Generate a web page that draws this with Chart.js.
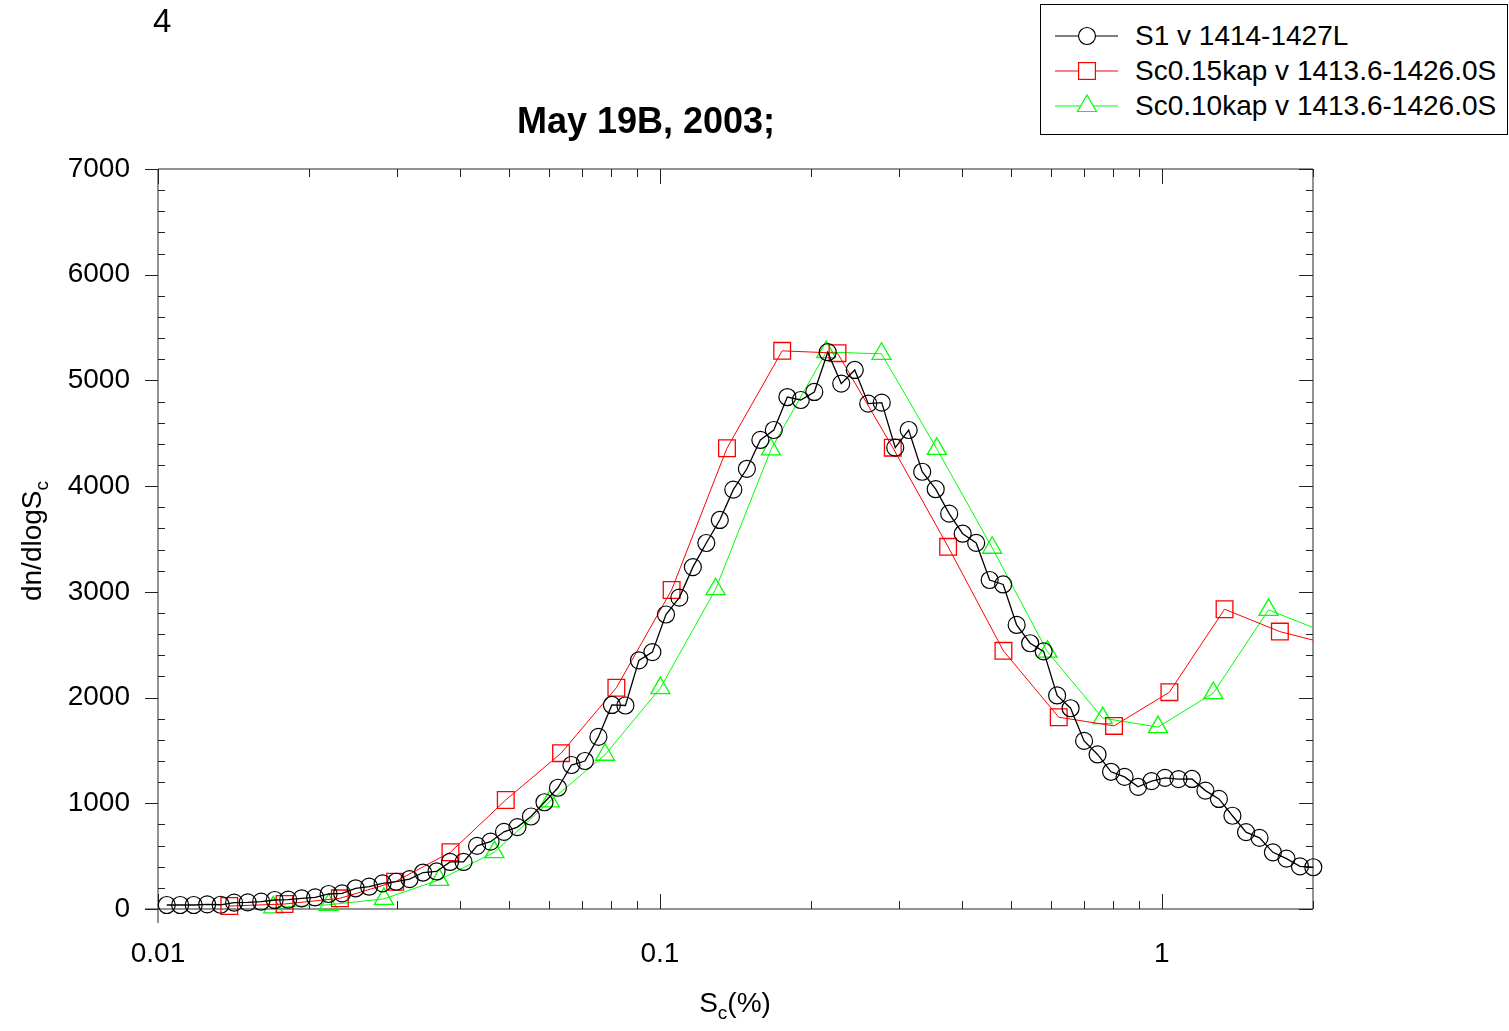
<!DOCTYPE html>
<html>
<head>
<meta charset="utf-8">
<script src="https://cdn.jsdelivr.net/npm/chart.js@4.4.1/dist/chart.umd.min.js"></script>
<style>
  html, body { margin: 0; padding: 0; background: #fff; }
  body { width: 1509px; height: 1031px; position: relative; overflow: hidden;
         font-family: "Liberation Sans", Arial, sans-serif; color: #000; }
  #c { position: absolute; left: 0; top: 0; }
  .txt { position: absolute; white-space: nowrap; line-height: 1; }
  .sub { font-size: 19px; position: relative; top: 7px; }
  #legend { position: absolute; left: 1040px; top: 4px; width: 468px; height: 131px;
            box-sizing: border-box; border: 1px solid #000; background: #fff; }
  #legend svg { position: absolute; left: 0; top: 0; }
  #legend .txt { font-size: 28px; left: 94px; }
</style>
</head>
<body>
<canvas id="c" width="1509" height="1031"></canvas>

<div class="txt" style="left:153px; top:4px; font-size:33px;">4</div>
<div class="txt" style="left:346px; width:600px; text-align:center; top:103px; font-size:36px; font-weight:bold;">May 19B, 2003;</div>
<div class="txt" style="left:535px; width:400px; text-align:center; top:989px; font-size:28px;">S<span class="sub">c</span>(%)</div>
<div class="txt" style="left:-118px; top:524px; width:300px; height:34px; line-height:34px; text-align:center; font-size:28px; transform:rotate(-90deg);">dn/dlogS<span class="sub">c</span></div>

<div id="legend">
  <svg width="466" height="129">
    <line x1="14" y1="31" x2="77" y2="31" stroke="#000" stroke-width="1.2"/>
    <circle cx="46" cy="31" r="8.5" fill="#fff" stroke="#000" stroke-width="1.2"/>
    <line x1="14" y1="66" x2="77" y2="66" stroke="#ff0000" stroke-width="1"/>
    <rect x="37.6" y="57.6" width="16.8" height="16.8" fill="#fff" stroke="#ff0000" stroke-width="1.2"/>
    <line x1="14" y1="101" x2="77" y2="101" stroke="#00ff00" stroke-width="1"/>
    <polygon points="46,90 55.5,106.5 36.5,106.5" fill="#fff" stroke="#00ff00" stroke-width="1.2"/>
  </svg>
  <div class="txt" style="top:17px;">S1 v 1414-1427L</div>
  <div class="txt" style="top:52px;">Sc0.15kap v 1413.6-1426.0S</div>
  <div class="txt" style="top:87px;">Sc0.10kap v 1413.6-1426.0S</div>
</div>

<script>
// S1 v 1414-1427L (black circles)
const s1X = [0.01041, 0.01107, 0.01178, 0.01253, 0.01333, 0.01418, 0.01509, 0.01605, 0.01708, 0.01817,
             0.01933, 0.02056, 0.02187, 0.02327, 0.02476, 0.02634, 0.02802, 0.02981, 0.03171, 0.03373,
             0.03589, 0.03818, 0.04062, 0.04321, 0.04597, 0.0489, 0.05202, 0.05534, 0.05888, 0.06263,
             0.06663, 0.07089, 0.07541, 0.08022, 0.08535, 0.0908, 0.09659, 0.1028, 0.1093, 0.1163,
             0.1237, 0.1316, 0.14, 0.149, 0.1585, 0.1686, 0.1794, 0.1908, 0.203, 0.2159,
             0.2297, 0.2444, 0.26, 0.2766, 0.2943, 0.313, 0.333, 0.3543, 0.3769, 0.401,
             0.4266, 0.4538, 0.4828, 0.5136, 0.5464, 0.5813, 0.6184, 0.6578, 0.6998, 0.7445,
             0.792, 0.8426, 0.8964, 0.9536, 1.014, 1.079, 1.148, 1.221, 1.299, 1.382,
             1.471, 1.565, 1.664, 1.771, 1.884, 2.003];
const s1Y = [38, 38, 38, 44, 40, 60, 63, 69, 85, 88,
             101, 110, 142, 148, 196, 211, 243, 258, 282, 345,
             355, 445, 445, 597, 637, 730, 775, 875, 1010, 1147,
             1362, 1400, 1628, 1930, 1925, 2352, 2430, 2786, 2946, 3234,
             3462, 3680, 3967, 4164, 4437, 4531, 4843, 4815, 4891, 5267,
             4970, 5099, 4780, 4790, 4364, 4531, 4136, 3971, 3740, 3550,
             3463, 3112, 3070, 2687, 2514, 2437, 2020, 1899, 1590, 1462,
             1298, 1250, 1156, 1210, 1240, 1229, 1230, 1120, 1041, 882,
             727, 673, 536, 477, 403, 395];

// Sc0.15kap (red squares)
const kap15X = [0.01387, 0.01787, 0.02303, 0.02968, 0.03825, 0.0493, 0.06353, 0.08188, 0.1055, 0.136,
                0.1752, 0.2258, 0.291, 0.3751, 0.4834, 0.623, 0.8028, 1.035, 1.333, 1.718, 2.214];
const kap15Y = [28, 47, 101, 258, 537, 1031, 1474, 2093, 3018, 4359,
                5280, 5258, 4364, 3426, 2442, 1814, 1732, 2051, 2836, 2624, 2490];

// Sc0.10kap (green triangles)
const kap10X = [0.01697, 0.02187, 0.02818, 0.03632, 0.04681, 0.06032, 0.07774, 0.1002, 0.1291, 0.1664,
                0.2144, 0.2763, 0.3561, 0.459, 0.5915, 0.7622, 0.9823, 1.266, 1.631, 2.102];
const kap10Y = [15, 40, 96, 275, 538, 1018, 1459, 2090, 3025, 4347,
                5268, 5252, 4353, 3417, 2434, 1806, 1721, 2042, 2830, 2622];

const xTickLabels = [0.01, 0.1, 1];
const yTickLabels = [0, 1000, 2000, 3000, 4000, 5000, 6000, 7000];

const FONT = '"Liberation Sans", Arial, sans-serif';

function pts(xs, ys) {
    return xs.map((x, i) => ({ x: x, y: ys[i] }));
}

// axis frame with inward minor ticks, like the original plot
const framePlugin = {
    id: 'frame',
    beforeDatasetsDraw(chart) {
        const { ctx, chartArea: a, scales } = chart;
        const xs = scales.x, ys = scales.y;
        ctx.save();
        ctx.strokeStyle = '#707070';
        ctx.lineWidth = 1.5;
        ctx.beginPath();
        ctx.moveTo(a.left - 13, a.bottom); ctx.lineTo(a.right, a.bottom);
        ctx.moveTo(a.left, a.top); ctx.lineTo(a.left, a.bottom + 14);
        ctx.moveTo(a.left, a.top); ctx.lineTo(a.right, a.top);
        ctx.moveTo(a.right, a.top); ctx.lineTo(a.right, a.bottom);
        ctx.stroke();

        ctx.strokeStyle = '#222';
        ctx.lineWidth = 1;
        ctx.beginPath();
        // y ticks
        for (let v = 0; v <= 7000; v += 200) {
            const py = Math.round(ys.getPixelForValue(v)) + 0.5;
            if (v % 1000 === 0) {
                ctx.moveTo(a.left - 13, py); ctx.lineTo(a.left, py);
                ctx.moveTo(a.right, py); ctx.lineTo(a.right - 14, py);
            } else {
                ctx.moveTo(a.left, py); ctx.lineTo(a.left + 7, py);
                ctx.moveTo(a.right, py); ctx.lineTo(a.right - 7, py);
            }
        }
        // x ticks
        xTickLabels.forEach(d => {
            for (let m = 1; m <= 9; m++) {
                const v = d * m;
                if (v > 2.0001) break;
                const px = Math.round(xs.getPixelForValue(v)) + 0.5;
                const len = m === 1 ? 15 : 8;
                ctx.moveTo(px, a.bottom); ctx.lineTo(px, a.bottom - len);
                ctx.moveTo(px, a.top); ctx.lineTo(px, a.top + len);
            }
        });
        ctx.stroke();
        ctx.restore();
    }
};

new Chart(document.getElementById('c'), {
    type: 'scatter',
    data: {
        datasets: [{
            label: 'S1 v 1414-1427L',
            data: pts(s1X, s1Y),
            showLine: true,
            borderColor: '#000',
            borderWidth: 1.3,
            backgroundColor: 'rgba(0,0,0,0)',
            pointStyle: 'circle',
            pointRadius: 8.5,
            pointBorderWidth: 1.2,
            pointBorderColor: '#000',
            pointBackgroundColor: 'rgba(0,0,0,0)',
            clip: 20
        }, {
            label: 'Sc0.15kap v 1413.6-1426.0S',
            data: pts(kap15X, kap15Y),
            showLine: true,
            borderColor: '#ff0000',
            borderWidth: 1,
            backgroundColor: 'rgba(0,0,0,0)',
            pointStyle: 'rect',
            pointRadius: 11.8,
            pointBorderWidth: 1.3,
            pointBorderColor: '#ff0000',
            pointBackgroundColor: 'rgba(0,0,0,0)',
            clip: { left: 20, top: 20, right: 0, bottom: 20 }
        }, {
            label: 'Sc0.10kap v 1413.6-1426.0S',
            data: pts(kap10X, kap10Y),
            showLine: true,
            borderColor: '#00ff00',
            borderWidth: 1,
            backgroundColor: 'rgba(0,0,0,0)',
            pointStyle: 'triangle',
            pointRadius: 11,
            pointBorderWidth: 1.3,
            pointBorderColor: '#00ff00',
            pointBackgroundColor: 'rgba(0,0,0,0)',
            clip: { left: 20, top: 20, right: 0, bottom: 20 }
        }]
    },
    options: {
        responsive: false,
        animation: false,
        devicePixelRatio: 1,
        layout: { padding: { top: 169, right: 196, left: 0, bottom: 0 } },
        plugins: {
            legend: { display: false },
            tooltip: { enabled: false }
        },
        scales: {
            x: {
                type: 'logarithmic',
                min: 0.01,
                max: 2,
                afterBuildTicks: s => { s.ticks = xTickLabels.map(v => ({ value: v })); },
                afterFit: s => { s.height = 122; },
                grid: { display: false, drawTicks: false },
                border: { display: false },
                ticks: {
                    autoSkip: false,
                    maxRotation: 0,
                    padding: 28,
                    color: '#000',
                    font: { family: FONT, size: 28 },
                    callback: v => String(v)
                }
            },
            y: {
                min: 0,
                max: 7000,
                afterBuildTicks: s => { s.ticks = yTickLabels.map(v => ({ value: v })); },
                afterFit: s => { s.width = 158; },
                grid: { display: false, drawTicks: false },
                border: { display: false },
                ticks: {
                    padding: 28,
                    color: '#000',
                    font: { family: FONT, size: 28 },
                    callback: v => String(v)
                }
            }
        }
    },
    plugins: [framePlugin]
});
</script>
</body>
</html>
